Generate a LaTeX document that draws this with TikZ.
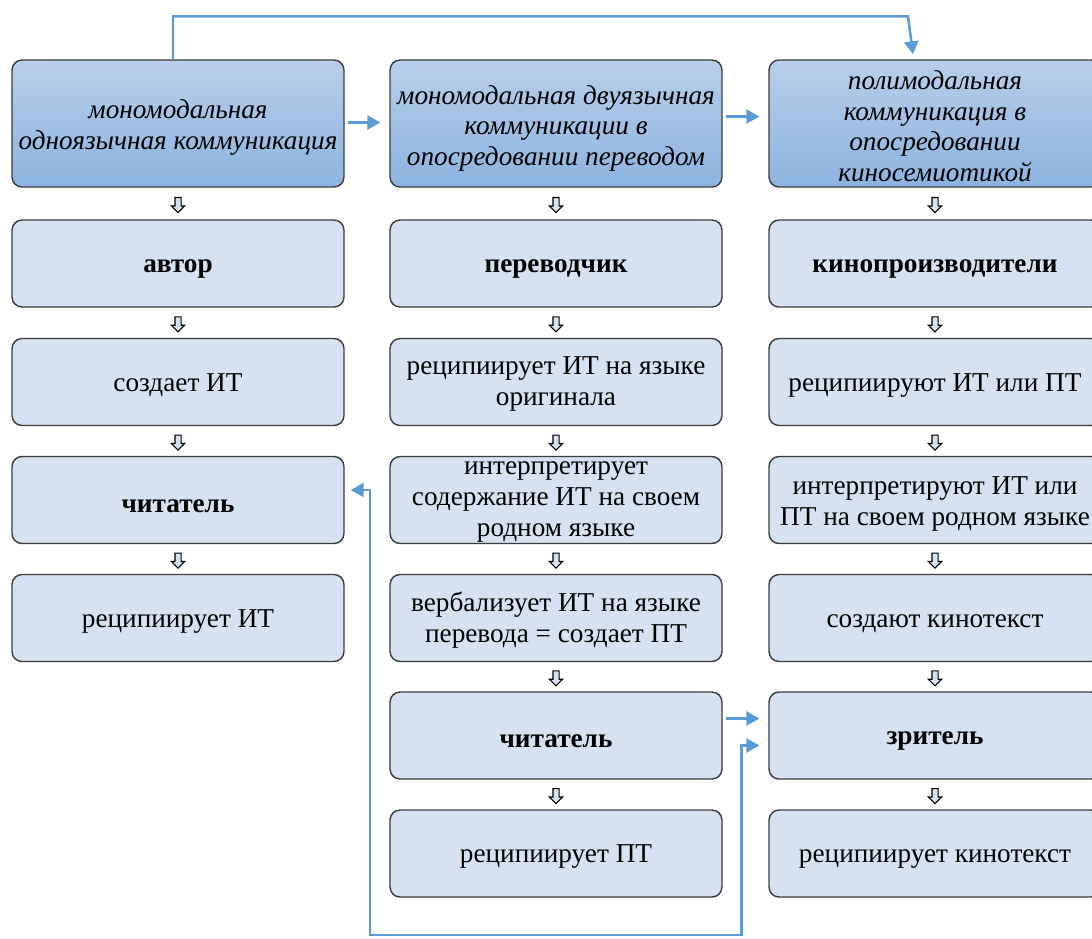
\documentclass[tikz,border=0pt]{standalone}
\usepackage{fontspec}
\setmainfont{Liberation Serif}
\usepackage{tikz}
\usetikzlibrary{positioning, arrows.meta, shapes.arrows, calc}

\definecolor{linkblue}{RGB}{91,155,213}
\definecolor{boxfill}{RGB}{214,225,241}
\definecolor{hdtop}{RGB}{184,207,234}
\definecolor{hdbot}{RGB}{140,179,224}
\definecolor{boxedge}{RGB}{60,60,60}

\begin{document}
\begin{tikzpicture}[x=0.02cm, y=-0.02cm,
    box/.style={draw=boxedge, line width=0.8pt, rounded corners=0.2cm, fill=boxfill,
        minimum width=6.64cm, minimum height=1.74cm, inner sep=0pt, align=center,
        font=\fontsize{15.5}{17.6}\selectfont, text height=14pt},
    head/.style={box, top color=hdtop, bottom color=hdbot, minimum height=2.54cm,
        font=\fontsize{15.5}{17.4}\selectfont\itshape},
    lift/.style={text height=#1},
    downarr/.style={single arrow, shape border rotate=270, draw=black, fill=boxfill,
        line width=0.6pt, inner sep=0.05cm, minimum height=0.3cm, single arrow head extend=0.07cm},
    link/.style={draw=linkblue, line width=1.4pt, -{Triangle[length=0.26cm,width=0.28cm]}}
]
    \useasboundingbox (0,0) rectangle (1092,938);

    % Headers
    \node[head, lift=32.5pt] (h1) at (178,123.5) {мономодальная\\одноязычная коммуникация};
    \node[head, lift=51pt] (h2) at (556,123.5) {мономодальная двуязычная\\коммуникации в\\опосредовании переводом};
    \node[head, lift=66pt] (h3) at (935,123.5) {полимодальная\\коммуникация в\\опосредовании\\киносемиотикой};

    % Column 1
    \node[box] (a1) at (178,263.5) {\textbf{автор}};
    \node[box] (a2) at (178,382) {создает ИТ};
    \node[box] (a3) at (178,500) {\textbf{читатель}};
    \node[box] (a4) at (178,618) {реципиирует ИТ};

    % Column 2
    \node[box] (b1) at (556,263.5) {\textbf{переводчик}};
    \node[box, lift=30pt] (b2) at (556,382) {реципиирует ИТ на языке\\оригинала};
    \node[box, lift=45pt] (b3) at (556,500) {интерпретирует\\содержание ИТ на своем\\родном языке};
    \node[box, lift=31pt] (b4) at (556,618) {вербализует ИТ на языке\\перевода = создает ПТ};
    \node[box] (b5) at (556,735.5) {\textbf{читатель}};
    \node[box] (b6) at (556,853.5) {реципиирует ПТ};

    % Column 3
    \node[box] (c1) at (935,263.5) {\textbf{кинопроизводители}};
    \node[box] (c2) at (935,382) {реципиируют ИТ или ПТ};
    \node[box, lift=32pt] (c3) at (935,500) {интерпретируют ИТ или\\ПТ на своем родном языке};
    \node[box] (c4) at (935,618) {создают кинотекст};
    \node[box] (c5) at (935,735.5) {\textbf{зритель}};
    \node[box] (c6) at (935,853.5) {реципиирует кинотекст};

    % Small arrows between boxes
    \foreach \u/\v [count=\i] in {h1/a1, a1/a2, a2/a3, a3/a4,
            h2/b1, b1/b2, b2/b3, b3/b4, b4/b5, b5/b6,
            h3/c1, c1/c2, c2/c3, c3/c4, c4/c5, c5/c6}
        \node[downarr] (s\i) at ($(\u.south)!0.5!(\v.north)$) {};

    % Links
    \draw[link] ($(h1.north)+(-5,0)$) |- ($(h3.north)+(-27,-43)$) -- ($(h3.north)+(-22,-5)$);
    \draw[link] ($(h1.east)+(3,-1)$) -- ($(h2.west)+(-9,-1)$);
    \draw[link] ($(h2.east)+(3,-7)$) -- ($(h3.west)+(-9,-7)$);
    \draw[link] ($(b5.east)+(3,-17)$) -- ($(c5.west)+(-9,-17)$);
    \draw[link, {Triangle[length=0.26cm,width=0.28cm]}-{Triangle[length=0.26cm,width=0.28cm]}]
        ($(a3.east)+(6,-10)$) -| (370,935) -| ($(c5.west)+(-27,10)$) -- ($(c5.west)+(-9,10)$);
\end{tikzpicture}
\end{document}
